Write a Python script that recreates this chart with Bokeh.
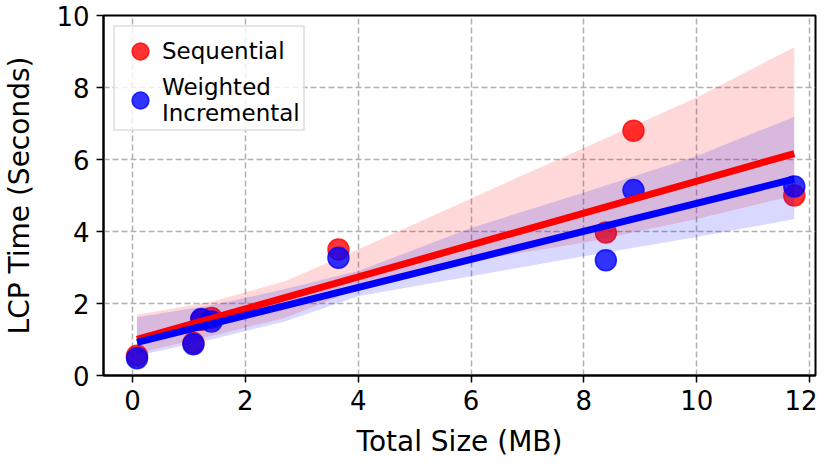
import numpy as np
from bokeh.plotting import figure
from bokeh.models import Range1d, Legend, LegendItem, FixedTicker
from bokeh.embed import file_html
from bokeh.resources import INLINE

# Data
total_size_mb = [0.08, 1.08, 1.22, 1.40, 3.65, 8.39, 8.88, 11.73]
sequential_lcp = [0.55, 0.90, 1.55, 1.60, 3.50, 3.97, 6.80, 5.00]
weighted_lcp = [0.48, 0.87, 1.57, 1.50, 3.27, 3.20, 5.15, 5.25]

# Confidence bands
band_x = [0.08, 1.4, 2.7, 4.0, 6.0, 8.0, 10.0, 11.73]
seq_band_upper = [1.69, 2.05, 2.62, 3.50, 4.92, 6.32, 7.72, 9.12]
seq_band_lower = [0.62, 1.10, 1.60, 2.40, 3.18, 3.69, 4.35, 5.00]
wi_band_upper = [1.62, 1.95, 2.40, 2.90, 4.10, 5.08, 6.10, 7.19]
wi_band_lower = [0.55, 1.00, 1.50, 2.20, 2.76, 3.31, 3.85, 4.34]

x_ticks = [0, 2, 4, 6, 8, 10, 12]
y_ticks = [0, 2, 4, 6, 8, 10]

FONT = "DejaVu Sans"

p = figure(frame_width=712, frame_height=360, output_backend="svg", toolbar_location=None,
           x_range=Range1d(-0.514, 12.106), y_range=Range1d(0, 10))
p.min_border_left = 100
p.min_border_right = 2
p.min_border_top = 15
p.min_border_bottom = 84
p.background_fill_color = "white"
p.border_fill_color = "white"
p.outline_line_color = "black"
p.outline_line_width = 2

for ax in (p.xaxis[0], p.yaxis[0]):
    ax.axis_line_color = "black"
    ax.axis_line_width = 2
    ax.major_tick_line_color = "black"
    ax.major_tick_line_width = 1.5
    ax.major_tick_out = 7
    ax.major_tick_in = 0
    ax.minor_tick_line_color = None
    ax.major_label_text_font = FONT
    ax.major_label_text_font_size = "26px"
    ax.major_label_text_color = "black"
    ax.axis_label_text_font = FONT
    ax.axis_label_text_font_size = "28px"
    ax.axis_label_text_font_style = "normal"
    ax.axis_label_text_color = "black"

p.xaxis.ticker = FixedTicker(ticks=x_ticks)
p.yaxis.ticker = FixedTicker(ticks=y_ticks)
p.xaxis.axis_label = "Total Size (MB)"
p.yaxis.axis_label = "LCP Time (Seconds)"
p.xaxis.major_label_standoff = 7
p.yaxis.major_label_standoff = 7
p.xaxis.axis_label_standoff = 12
p.yaxis.axis_label_standoff = 17

for g in (p.xgrid[0], p.ygrid[0]):
    g.grid_line_color = "#b0b0b0"
    g.grid_line_width = 1.5
    g.grid_line_dash = "6 3"

x = np.array(total_size_mb)

def fit_line(yvals):
    slope, intercept = np.polyfit(x, np.array(yvals), 1)
    xs = np.array([x.min(), x.max()])
    return xs, slope * xs + intercept

# Sequential points and band
r_seq = p.scatter(total_size_mb, sequential_lcp, size=21, fill_color="red",
                  fill_alpha=0.8, line_color="red", line_alpha=0.8, line_width=1.5)
p.varea(x=band_x, y1=seq_band_lower, y2=seq_band_upper, fill_color="red", fill_alpha=0.15)

# Weighted Incremental points and band
r_wi = p.scatter(total_size_mb, weighted_lcp, size=21, fill_color="blue",
                 fill_alpha=0.8, line_color="blue", line_alpha=0.8, line_width=1.5)
p.varea(x=band_x, y1=wi_band_lower, y2=wi_band_upper, fill_color="blue", fill_alpha=0.15)

# Regression lines on top
xs, ys = fit_line(sequential_lcp)
p.line(xs, ys, line_color="red", line_width=7)
xs, ys = fit_line(weighted_lcp)
p.line(xs, ys, line_color="blue", line_width=7)

legend = Legend(items=[LegendItem(label="Sequential", renderers=[r_seq]),
                       LegendItem(label="Weighted\nIncremental", renderers=[r_wi])],
                location="top_left")
legend.label_text_font = FONT
legend.label_text_font_size = "23px"
legend.label_text_color = "black"
legend.label_text_line_height = 1.1
legend.glyph_width = 44
legend.glyph_height = 42
legend.label_standoff = 0
legend.padding = 3
legend.spacing = 2
legend.margin = 10
legend.border_line_color = "#cccccc"
legend.border_line_width = 2
legend.background_fill_alpha = 0.8
p.add_layout(legend)

open("out.html", "w").write(file_html(p, INLINE))
